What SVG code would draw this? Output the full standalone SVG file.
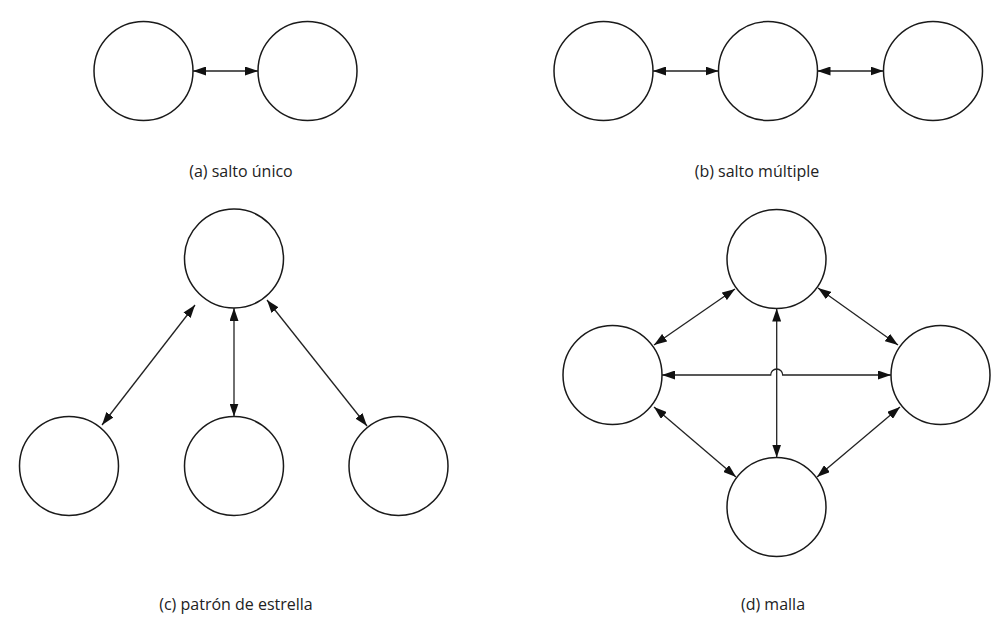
<svg xmlns="http://www.w3.org/2000/svg" width="993" height="621" viewBox="0 0 993 621">
<style>
  .node { fill: #ffffff; stroke: #1a1a1a; stroke-width: 1.5; }
  .edge { fill: none; stroke: #222222; stroke-width: 1.3; marker-start: url(#arrow); marker-end: url(#arrow); }
  .label { font-family: "Open Sans", "Liberation Sans", sans-serif; font-size: 16px; fill: #222222; text-anchor: middle; }
</style>
<defs>
  <marker id="arrow" viewBox="0 0 13 9" refX="13" refY="4.5" markerWidth="13" markerHeight="9" markerUnits="userSpaceOnUse" orient="auto-start-reverse">
    <path d="M0,0 L13,4.5 L0,9 z" fill="#111111"/>
  </marker>
</defs>
<rect width="993" height="621" fill="#ffffff"/>

<!-- (a) salto único -->
<g id="a-n1"><circle class="node" cx="143.5" cy="71" r="49.5"/></g>
<g id="a-n2"><circle class="node" cx="307.5" cy="71" r="49.5"/></g>

<!-- (b) salto múltiple -->
<g id="b-n1"><circle class="node" cx="603.5" cy="71" r="49.5"/></g>
<g id="b-n2"><circle class="node" cx="768" cy="71" r="49.5"/></g>
<g id="b-n3"><circle class="node" cx="933" cy="71" r="49.5"/></g>

<!-- (c) patrón de estrella -->
<g id="c-top"><circle class="node" cx="234" cy="258.5" r="49.5"/></g>
<g id="c-left"><circle class="node" cx="69" cy="466" r="49.5"/></g>
<g id="c-mid"><circle class="node" cx="234" cy="466" r="49.5"/></g>
<g id="c-right"><circle class="node" cx="398.5" cy="466" r="49.5"/></g>

<!-- (d) malla -->
<g id="d-top"><circle class="node" cx="776.5" cy="259" r="49.5"/></g>
<g id="d-left"><circle class="node" cx="612.5" cy="375" r="49.5"/></g>
<g id="d-right"><circle class="node" cx="940.5" cy="375" r="49.5"/></g>
<g id="d-bottom"><circle class="node" cx="776.5" cy="507" r="49.5"/></g>

<g id="connectors">
  <line class="edge" x1="193" y1="71" x2="258" y2="71"/>
  <line class="edge" x1="653" y1="71" x2="718.5" y2="71"/>
  <line class="edge" x1="817.5" y1="71" x2="883.5" y2="71"/>

  <line class="edge" x1="195" y1="305" x2="102" y2="425"/>
  <line class="edge" x1="234" y1="308" x2="234" y2="416.5"/>
  <line class="edge" x1="267" y1="300" x2="367" y2="426"/>

  <line class="edge" x1="735" y1="289" x2="654" y2="345"/>
  <line class="edge" x1="818" y1="288" x2="898" y2="345"/>
  <line class="edge" x1="776.7" y1="308.5" x2="776.7" y2="457.5"/>
  <path class="edge" d="M662,375 H770.7 A6,6 0 0 1 782.7,375 H891"/>
  <line class="edge" x1="654" y1="407" x2="736" y2="477"/>
  <line class="edge" x1="900" y1="407" x2="817" y2="477"/>
</g>

<g id="labels">
  <text class="label" x="241" y="177">(a) salto único</text>
  <text class="label" x="757" y="177">(b) salto múltiple</text>
  <text class="label" x="236" y="610">(c) patrón de estrella</text>
  <text class="label" x="773" y="610">(d) malla</text>
</g>
</svg>
